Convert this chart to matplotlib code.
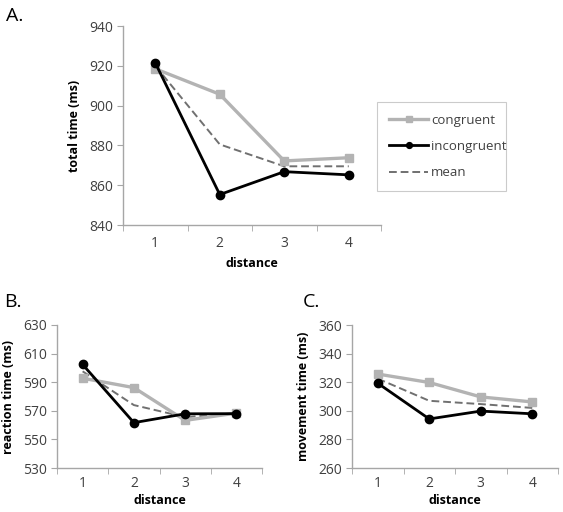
import matplotlib
matplotlib.use("Agg")
import matplotlib.pyplot as plt
import matplotlib.ticker as ticker
import numpy as np

distance = [1, 2, 3, 4]

total_congruent = [918.5, 905.7, 872.2, 873.8]
total_incongruent = [921.5, 855.3, 866.8, 865.2]
total_mean = [920.0, 880.5, 869.5, 869.5]

rt_congruent = [592.8, 586.2, 563.3, 568.4]
rt_incongruent = [602.4, 561.7, 567.9, 568.0]
rt_mean = [597.6, 574.0, 565.6, 568.2]

mt_congruent = [325.7, 319.8, 309.7, 306.2]
mt_incongruent = [319.3, 294.3, 299.8, 297.9]
mt_mean = [322.5, 307.0, 304.7, 302.0]

plt.rcParams['font.family'] = ['Open Sans', 'DejaVu Sans']

AXIS_GRAY = '#a6a6a6'
TEXT_GRAY = '#404040'

W, H = 563, 512
fig = plt.figure(figsize=(W / 100, H / 100), dpi=100)


def px_axes(left, top, right, bottom):
    return fig.add_axes([left / W, 1 - bottom / H, (right - left) / W, (bottom - top) / H])


def style_panel(ax, cong, incong, mean, ylim, ystep, ylabel, xpad=8, xlabelpad=4):
    ax.plot(distance, cong, color='#b3b3b3', lw=2.4, marker='s', ms=6, label='congruent', zorder=3)
    ax.plot(distance, incong, color='black', lw=2.0, marker='o', ms=6, label='incongruent', zorder=4)
    ax.plot(distance, mean, color='#707070', lw=1.4, ls=(0, (4, 2)), label='mean', zorder=2)
    ax.set_xlim(0.5, 4.5)
    ax.set_ylim(*ylim)
    ax.yaxis.set_major_locator(ticker.FixedLocator(np.arange(ylim[0], ylim[1] + 1, ystep)))
    ax.xaxis.set_major_locator(ticker.FixedLocator(distance))
    ax.xaxis.set_minor_locator(ticker.FixedLocator([0.5, 1.5, 2.5, 3.5, 4.5]))
    for s in ['top', 'right']:
        ax.spines[s].set_visible(False)
    for s in ['left', 'bottom']:
        ax.spines[s].set_color(AXIS_GRAY)
        ax.spines[s].set_linewidth(1.0)
    ax.tick_params(axis='x', which='major', length=0, pad=xpad, labelsize=10, labelcolor=TEXT_GRAY)
    ax.tick_params(axis='x', which='minor', length=4, color=AXIS_GRAY, direction='out')
    ax.tick_params(axis='y', length=4, color=AXIS_GRAY, direction='out', labelsize=10,
                   labelcolor=TEXT_GRAY, pad=3)
    ax.set_xlabel('distance', fontsize=9, fontweight='bold', labelpad=xlabelpad)
    ax.set_ylabel(ylabel, fontsize=9, fontweight='bold', labelpad=6)


axA = px_axes(123, 26, 381, 225)
style_panel(axA, total_congruent, total_incongruent, total_mean, (840, 940), 20, 'total time (ms)')
leg = axA.legend(loc='upper left', bbox_to_anchor=(377 / W, 1 - 182 / H, 129 / W, 80 / H),
                 bbox_transform=fig.transFigure, mode='expand', borderaxespad=0,
                 frameon=True, fancybox=False,
                 edgecolor='#bfbfbf', fontsize=9.5, handlelength=3.0, handletextpad=0.2,
                 labelspacing=1.0, borderpad=0.9, labelcolor=TEXT_GRAY, markerscale=0.7)
leg.get_frame().set_linewidth(0.8)

axB = px_axes(57, 325, 262, 468)
style_panel(axB, rt_congruent, rt_incongruent, rt_mean, (530, 630), 20, 'reaction time (ms)',
            xpad=6, xlabelpad=2)

axC = px_axes(352, 325, 558, 468)
style_panel(axC, mt_congruent, mt_incongruent, mt_mean, (260, 360), 20, 'movement time (ms)',
            xpad=6, xlabelpad=2)

fig.text(6 / W, 1 - 16 / H, 'A.', fontsize=14, va='center', ha='left')
fig.text(4 / W, 1 - 302 / H, 'B.', fontsize=14, va='center', ha='left')
fig.text(303 / W, 1 - 302 / H, 'C.', fontsize=14, va='center', ha='left')

fig.savefig('out.png', dpi=100)
